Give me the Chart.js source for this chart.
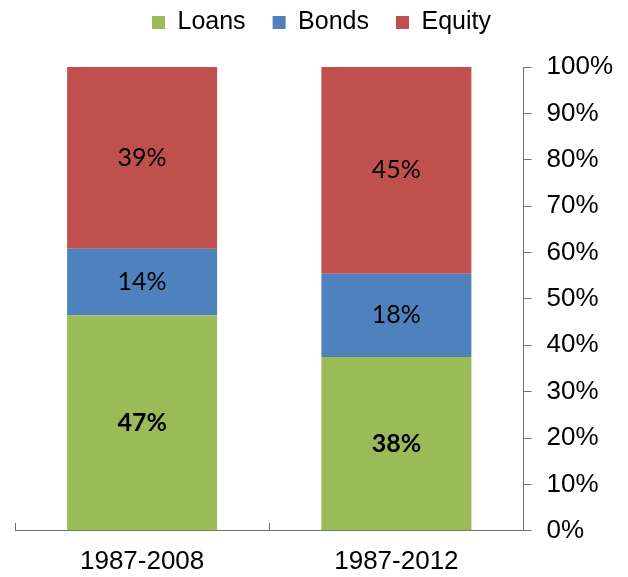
<!DOCTYPE html>
<html>
<head>
<meta charset="utf-8">
<script src="https://cdn.jsdelivr.net/npm/chart.js@4"></script>
<style>
  body { margin: 0; background: #fff; }
  #wrap { width: 628px; height: 577px; }
</style>
</head>
<body>
<div id="wrap"><canvas id="mixChart"></canvas></div>
<script>
const periods = ['1987-2008', '1987-2012'];
const loans = [46.5, 37.5];
const bonds = [14.3, 17.9];
const equity = [39.2, 44.6];
const yTicks = [0, 10, 20, 30, 40, 50, 60, 70, 80, 90, 100];

// draws the % figure in the middle of each segment
const segmentLabels = {
    id: 'segmentLabels',
    beforeInit(chart) {
        // extra gap under the legend
        const fit = chart.legend.fit;
        chart.legend.fit = function () {
            fit.call(this);
            this.height += 22;
        };
    },
    afterDatasetsDraw(chart) {
        const ctx = chart.ctx;
        ctx.save();
        ctx.textAlign = 'center';
        ctx.textBaseline = 'middle';
        ctx.fillStyle = '#000';
        chart.data.datasets.forEach((ds, i) => {
            const meta = chart.getDatasetMeta(i);
            ctx.font = (i === 0 ? 'bold ' : '') + '25px Lato';
            meta.data.forEach((bar, j) => {
                const mid = (bar.y + bar.base) / 2;
                ctx.fillText(Math.round(ds.data[j]) + '%', bar.x, mid);
            });
        });
        ctx.restore();
    }
};

const ctx = document.getElementById('mixChart').getContext('2d');
const mixChart = new Chart(ctx, {
    type: 'bar',
    data: {
        labels: periods,
        datasets: [
            { label: 'Loans', data: loans, backgroundColor: '#9BBB59' },
            { label: 'Bonds', data: bonds, backgroundColor: '#4F81BD' },
            { label: 'Equity', data: equity, backgroundColor: '#C0504D' }
        ]
    },
    options: {
        responsive: true,
        maintainAspectRatio: false,
        animation: false,
        barPercentage: 0.59,
        categoryPercentage: 1,
        layout: {
            padding: { top: -17, left: 15, right: 0, bottom: -23 }
        },
        plugins: {
            legend: {
                position: 'top',
                labels: {
                    boxWidth: 13,
                    boxHeight: 13,
                    padding: 27,
                    color: '#000',
                    font: { family: 'Liberation Sans', size: 25 }
                }
            },
            tooltip: { enabled: false }
        },
        scales: {
            x: {
                stacked: true,
                grid: {
                    drawOnChartArea: false,
                    tickLength: -8,
                    color: '#707070'
                },
                border: { color: '#707070' },
                ticks: {
                    color: '#000',
                    padding: 23,
                    font: { family: 'Liberation Sans', size: 26 }
                }
            },
            y: {
                stacked: true,
                position: 'right',
                min: 0,
                max: 100,
                afterBuildTicks(scale) {
                    scale.ticks = yTicks.map(v => ({ value: v }));
                },
                grid: {
                    drawOnChartArea: false,
                    tickLength: 8,
                    color: '#707070'
                },
                border: { color: '#707070' },
                ticks: {
                    color: '#000',
                    padding: 15,
                    font: { family: 'Liberation Sans', size: 26 },
                    callback: v => v + '%'
                }
            }
        }
    },
    plugins: [segmentLabels]
});
</script>
</body>
</html>
